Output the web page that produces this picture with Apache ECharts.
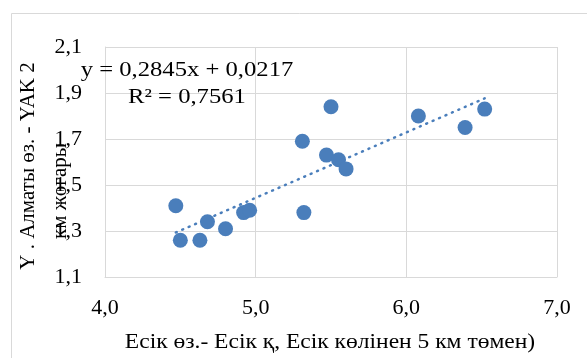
<!DOCTYPE html>
<html>
<head>
<meta charset="utf-8">
<script src="https://cdn.jsdelivr.net/npm/echarts@6/dist/echarts.min.js"></script>
<style>
html,body{margin:0;padding:0;background:#fff;}
#chart{width:587px;height:358px;}
</style>
</head>
<body>
<div id="chart"></div>
<script>
// Data
var xValues = [4.47, 4.50, 4.63, 4.68, 4.80, 4.92, 4.96, 5.31, 5.32, 5.47, 5.55, 5.60, 5.50, 6.08, 6.39, 6.52];
var yValues = [1.41, 1.26, 1.26, 1.34, 1.31, 1.38, 1.39, 1.69, 1.38, 1.63, 1.61, 1.57, 1.84, 1.80, 1.75, 1.83];
var trendCoef = [0.2845, 0.0217]; // slope, intercept as printed on the chart
var equationLines = ['y = 0,2845x + 0,0217', 'R² = 0,7561'];
var xTitle = 'Есік өз.- Есік қ, Есік көлінен 5 км төмен)';
var yTitleLines = ['Y . Алматы өз. - YAK 2', 'км жоғары'];
var xTicks = [4.0, 5.0, 6.0, 7.0];
var yTicks = [1.1, 1.3, 1.5, 1.7, 1.9, 2.1];

var points = xValues.map(function (x, i) { return [x, yValues[i]]; });
var xMin = Math.min.apply(null, xValues), xMax = Math.max.apply(null, xValues);
var trend = [[xMin, trendCoef[0] * xMin + trendCoef[1]], [xMax, trendCoef[0] * xMax + trendCoef[1]]];

var FONT = '"Liberation Serif", "Times New Roman", serif';
var BLUE = '#4a7ebb';
var GRID = '#d9d9d9';
var SX = 1.12; // reference text is slightly wider than tall
function fmt(v) { return v.toFixed(1).replace('.', ','); }

var chart = echarts.init(document.getElementById('chart'), null, {renderer: 'canvas'});
chart.setOption({
  backgroundColor: '#ffffff',
  animation: false,
  grid: {left: 105, right: 30, top: 47, bottom: 81, containLabel: false},
  xAxis: {
    type: 'value',
    min: xTicks[0], max: xTicks[xTicks.length - 1], interval: 1,
    axisLine: {show: true, lineStyle: {color: GRID, width: 1}},
    axisTick: {show: false},
    splitLine: {show: true, lineStyle: {color: GRID, width: 1}},
    axisLabel: {formatter: fmt, color: '#000', fontFamily: FONT, fontSize: 22, margin: 20}
  },
  yAxis: {
    type: 'value',
    min: yTicks[0], max: yTicks[yTicks.length - 1], interval: 0.2,
    axisLine: {show: true, lineStyle: {color: GRID, width: 1}},
    axisTick: {show: false},
    splitLine: {show: true, lineStyle: {color: GRID, width: 1}},
    axisLabel: {formatter: fmt, color: '#000', fontFamily: FONT, fontSize: 22, margin: 23}
  },
  graphic: [
    {type: 'rect', z: -10, silent: true, shape: {x: 11.5, y: 13.5, width: 700, height: 500},
     style: {fill: null, stroke: GRID, lineWidth: 1}},
    {type: 'text', rotation: Math.PI / 2, x: 28, y: 166, z: 10,
     style: {text: yTitleLines[0], fontFamily: FONT, fontSize: 21, fill: '#000', textAlign: 'center', textVerticalAlign: 'middle'}},
    {type: 'text', rotation: Math.PI / 2, x: 60, y: 191, z: 10,
     style: {text: yTitleLines[1], fontFamily: FONT, fontSize: 21, fill: '#000', textAlign: 'center', textVerticalAlign: 'middle'}},
    {type: 'text', x: 330, y: 342, scaleX: SX, z: 10,
     style: {text: xTitle, fontFamily: FONT, fontSize: 21, fill: '#000', textAlign: 'center', textVerticalAlign: 'middle'}},
    {type: 'text', x: 187, y: 70, scaleX: SX, z: 10,
     style: {text: equationLines[0], fontFamily: FONT, fontSize: 22, fill: '#000', textAlign: 'center', textVerticalAlign: 'middle'}},
    {type: 'text', x: 187, y: 97, scaleX: SX, z: 10,
     style: {text: equationLines[1], fontFamily: FONT, fontSize: 22, fill: '#000', textAlign: 'center', textVerticalAlign: 'middle'}}
  ],
  series: [
    {
      type: 'scatter', data: points, symbol: 'circle', symbolSize: 15,
      itemStyle: {color: BLUE, opacity: 1}, z: 3
    },
    {
      type: 'line', data: trend, showSymbol: false, symbol: 'none',
      lineStyle: {color: BLUE, width: 2.5, type: [1, 6], cap: 'round'}, z: 4
    }
  ]
});
</script>
</body>
</html>
